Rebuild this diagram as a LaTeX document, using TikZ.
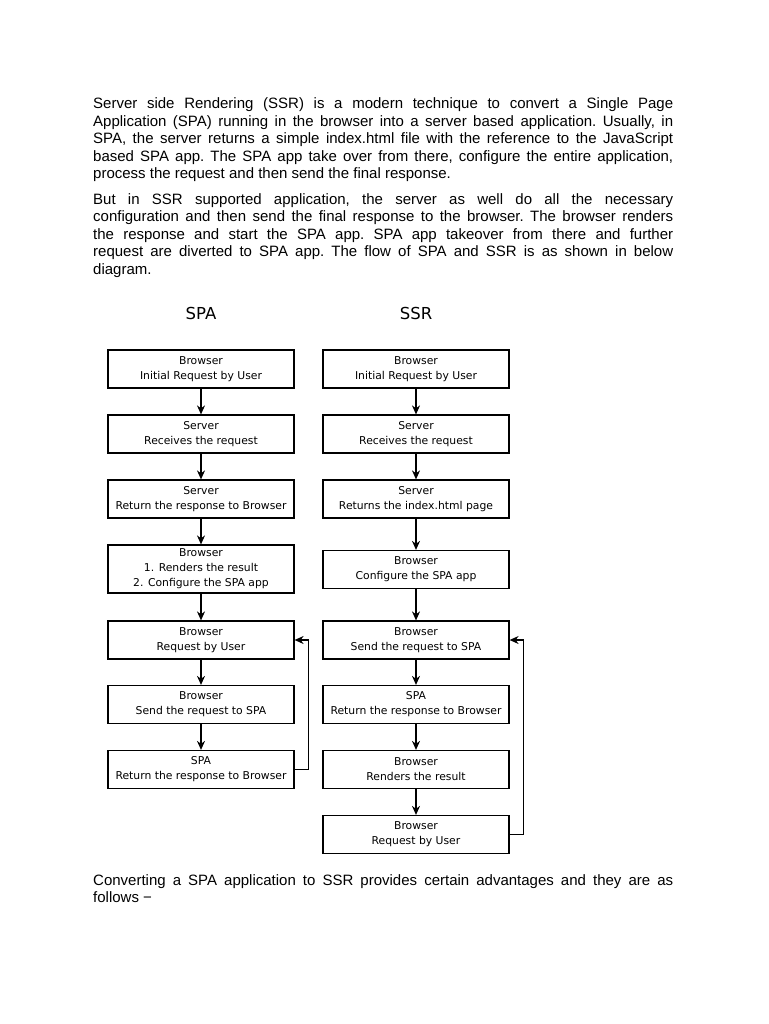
\documentclass[tikz,border=0pt]{standalone}
\usepackage{fontspec}
\setmainfont{Liberation Sans}
\newfontfamily\boxfont{DejaVu Sans}
\usetikzlibrary{arrows.meta}
\newcommand\paratext[1]{\parbox[t]{580pt}{\frenchspacing\tolerance=9999\relax
  \hyphenpenalty=10000\relax\parindent=0pt\relax #1}}

\begin{document}
\begin{tikzpicture}[x=1pt, y=-1pt,
    para/.style={anchor=north west, inner sep=0pt,
      font=\fontsize{15}{17.6}\selectfont},
    flowbox/.style={draw, line width=1.2pt, minimum width=186pt, inner sep=0pt, align=center,
      font=\boxfont\fontsize{10.8}{15}\selectfont},
    flow/.style={-{Stealth[length=9pt,width=8pt]}, line width=1.2pt},
    coltitle/.style={font=\boxfont\fontsize{16.5}{20}\selectfont}]
  \fill[white] (0,0) rectangle (768,1024);
  \useasboundingbox (0,0) rectangle (768,1024);
  % Text
  \node[para] (intro) at (93,97.5) {\paratext{Server side Rendering (SSR) is a modern technique to convert a Single Page\linebreak
    Application (SPA) running in the browser into a server based application. Usually, in\linebreak
    SPA, the server returns a simple index.html file with the reference to the JavaScript\linebreak
    based SPA app. The SPA app take over from there, configure the entire application,\linebreak
    process the request and then send the final response.}};
  \node[para] (ssrtext) at (93,193) {\paratext{But in SSR supported application, the server as well do all the necessary\linebreak
    configuration and then send the final response to the browser. The browser renders\linebreak
    the response and start the SPA app. SPA app takeover from there and further\linebreak
    request are diverted to SPA app. The flow of SPA and SSR is as shown in below\linebreak
    diagram.}};
  \node[para] (outro) at (93,874) {\paratext{Converting a SPA application to SSR provides certain advantages and they are as\linebreak
    follows −}};
  % Titles
  \node[coltitle] (spatitle) at (201,313) {SPA};
  \node[coltitle] (ssrtitle) at (416,313) {SSR};
  % SPA flow
  \foreach \n/\y/\h/\txt in {1/369/38/{Browser\\Initial Request by User},
      2/434/38/{Server\\Receives the request},
      3/499/38/{Server\\Return the response to Browser},
      4/569/48/{Browser\\1. Renders the result\\2. Configure the SPA app},
      5/640/38/{Browser\\Request by User},
      6/704.5/38/{Browser\\Send the request to SPA},
      7/769.5/38/{SPA\\Return the response to Browser}}
    \node[flowbox, minimum height=\h pt] (spa\n) at (201,\y) {\txt};
  % SSR flow
  \foreach \n/\y/\txt in {1/369/{Browser\\Initial Request by User},
      2/434/{Server\\Receives the request},
      3/499/{Server\\Returns the index.html page},
      4/569.5/{Browser\\Configure the SPA app},
      5/640/{Browser\\Send the request to SPA},
      6/704.5/{SPA\\Return the response to Browser},
      7/769.5/{Browser\\Renders the result},
      8/834.5/{Browser\\Request by User}}
    \node[flowbox, minimum height=38pt] (ssr\n) at (416,\y) {\txt};
  % Arrows
  \foreach \i [evaluate=\i as \j using int(\i+1)] in {1,...,6}
    \draw[flow] (spa\i) -- (spa\j);
  \foreach \i [evaluate=\i as \j using int(\i+1)] in {1,...,7}
    \draw[flow] (ssr\i) -- (ssr\j);
  % Loops back
  \draw[flow] (spa7.east) -- ++(14,0) |- (spa5.east);
  \draw[flow] (ssr8.east) -- ++(14,0) |- (ssr5.east);
\end{tikzpicture}
\end{document}
